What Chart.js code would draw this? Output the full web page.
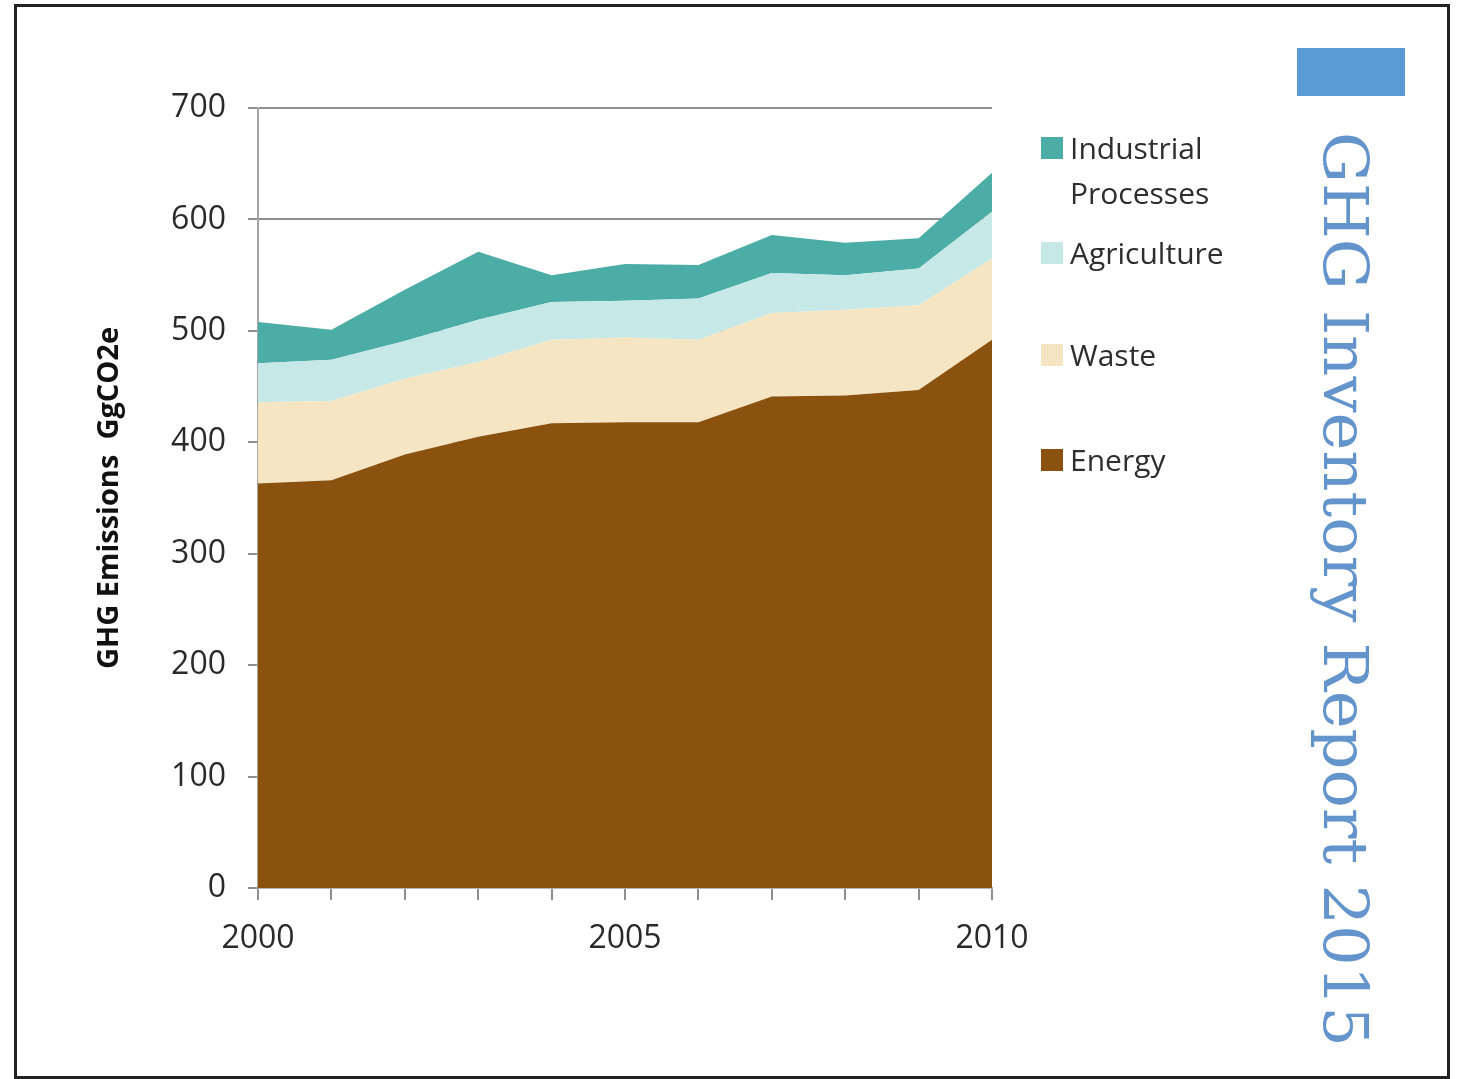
<!DOCTYPE html>
<html>
<head>
<meta charset="utf-8">
<script src="https://cdn.jsdelivr.net/npm/chart.js@4.4.1/dist/chart.umd.min.js"></script>
<style>
  html, body { margin: 0; padding: 0; background: #fff; }
  #page { position: relative; width: 1458px; height: 1079px; overflow: hidden; font-family: 'Open Sans', sans-serif; }
  #frame { position: absolute; left: 14px; top: 4px; width: 1430px; height: 1069px; border: 3px solid #222; }
  #chartBox { position: absolute; left: 0; top: 0; width: 1458px; height: 1079px; }
  #legend { position: absolute; left: 1041px; top: 0; }
  .item { position: absolute; left: 0; white-space: nowrap; font-size: 30px; color: #2e2e2e; line-height: 36px; }
  .item .sw { position: absolute; left: 0; top: 7px; width: 22px; height: 22px; }
  .item .tx { position: absolute; left: 29px; top: 0; }
  #bluebar { position: absolute; left: 1297px; top: 48px; width: 108px; height: 48px; background: #5b9bd5; }
  #sideTitle { position: absolute; left: 1308px; top: 132px; writing-mode: vertical-rl; font-family: 'DejaVu Serif', serif; font-size: 62px; color: #6494cc; white-space: nowrap; transform-origin: 50% 0; line-height: 74px; }
</style>
</head>
<body>
<div id="page">
  <div id="frame"></div>
  <div id="chartBox"><canvas id="ghgChart" width="1458" height="1079"></canvas></div>
  <div id="legend"></div>
  <div id="bluebar"></div>
  <div id="sideTitle">GHG Inventory Report 2015</div>
</div>
<script>
var years = ['2000', '2001', '2002', '2003', '2004', '2005', '2006', '2007', '2008', '2009', '2010'];
var energy = [363, 366, 389, 405, 417, 418, 418, 441, 442, 447, 492];
var waste = [73, 71, 68, 67, 75, 76, 74, 75, 77, 76, 73];
var agriculture = [35, 37, 34, 38, 34, 33, 37, 36, 31, 33, 42];
var industrial = [37, 27, 46, 61, 24, 33, 30, 34, 29, 27, 35];
var yTicks = [0, 100, 200, 300, 400, 500, 600, 700];

var series = [
    { label: 'Energy', data: energy, color: '#8b520f' },
    { label: 'Waste', data: waste, color: '#f6e5c3' },
    { label: 'Agriculture', data: agriculture, color: '#c6e8e6' },
    { label: 'Industrial Processes', data: industrial, color: '#4bada5' },
];

var datasets = series.map(function(s, i) {
    return {
        label: s.label,
        data: s.data,
        backgroundColor: s.color,
        borderColor: s.color,
        borderWidth: 0,
        pointRadius: 0,
        fill: i === 0 ? 'origin' : '-1',
        tension: 0,
    };
});

new Chart(document.getElementById('ghgChart'), {
    type: 'line',
    data: { labels: years, datasets: datasets },
    options: {
        responsive: false,
        animation: false,
        layout: { padding: { left: 88, top: 108, right: 466, bottom: 0 } },
        plugins: { legend: { display: false }, tooltip: { enabled: false } },
        scales: {
            x: {
                grid: { drawOnChartArea: false, drawTicks: true, tickLength: 12, color: '#8f8f8f', lineWidth: 2 },
                border: { color: '#b5b5b5', width: 2 },
                ticks: {
                    autoSkip: false,
                    maxRotation: 0,
                    padding: 20,
                    color: '#2a2a2a',
                    font: { family: 'Open Sans', size: 32 },
                    callback: function(value, index) {
                        return index % 5 === 0 ? years[index] : '';
                    },
                },
                afterFit: function(scale) { scale.height = 191; },
            },
            y: {
                stacked: true,
                min: 0,
                max: 700,
                afterBuildTicks: function(scale) {
                    scale.ticks = yTicks.map(function(v) { return { value: v }; });
                },
                grid: { color: '#8f8f8f', lineWidth: 2, tickLength: 10 },
                border: { color: '#a5a5a5', width: 2 },
                ticks: { padding: 22, color: '#2a2a2a', font: { family: 'Open Sans', size: 32 } },
                title: {
                    display: true,
                    text: 'GHG Emissions  GgCO2e',
                    color: '#111',
                    font: { family: 'Open Sans', size: 29, weight: 'bold' },
                },
                afterFit: function(scale) { scale.width = 170; },
            },
        },
    },
});

// legend, drawn on the right like the original
var legendRows = [
    { key: 'Industrial Processes', text: 'Industrial', top: 130, swatch: true },
    { key: null, text: 'Processes', top: 175, swatch: false },
    { key: 'Agriculture', text: 'Agriculture', top: 235, swatch: true },
    { key: 'Waste', text: 'Waste', top: 337, swatch: true },
    { key: 'Energy', text: 'Energy', top: 442, swatch: true },
];
var legendBox = document.getElementById('legend');
legendRows.forEach(function(row) {
    var el = document.createElement('div');
    el.className = 'item';
    el.style.top = row.top + 'px';
    var html = '';
    if (row.swatch) {
        var s = series.filter(function(x) { return x.label === row.key; })[0];
        html += '<span class="sw" style="background:' + s.color + '"></span>';
    }
    html += '<span class="tx">' + row.text + '</span>';
    el.innerHTML = html;
    legendBox.appendChild(el);
});

// stretch side title to the original length
var side = document.getElementById('sideTitle');
var h = side.getBoundingClientRect().height;
side.style.transform = 'scale(1,' + (915 / h) + ')';
</script>
</body>
</html>
